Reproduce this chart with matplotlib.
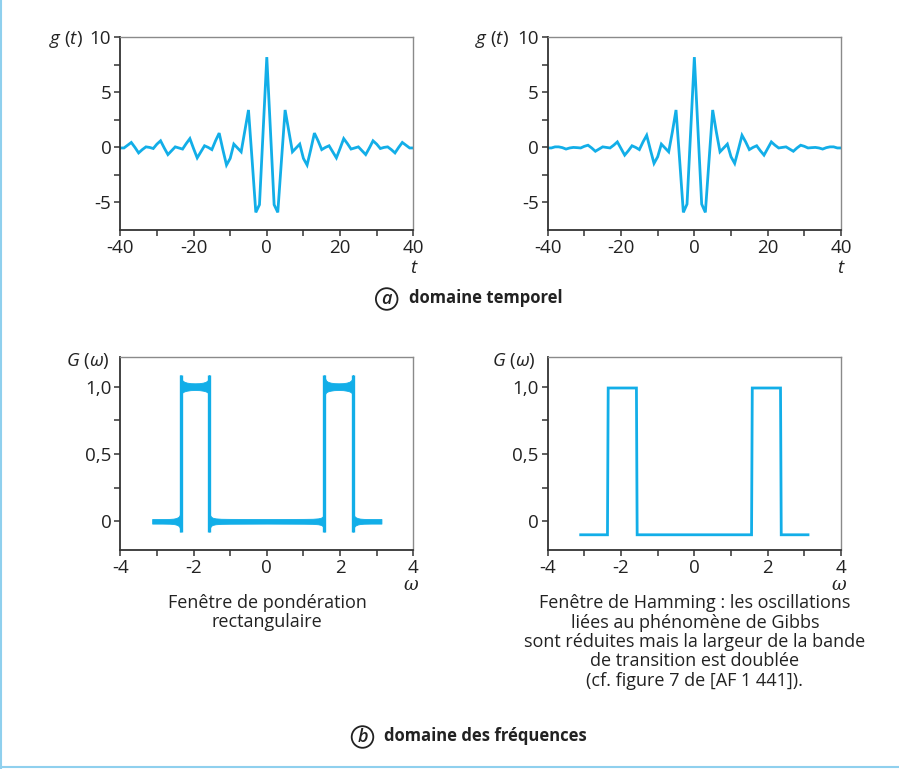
import numpy as np
import matplotlib
matplotlib.use('Agg')
import matplotlib.pyplot as plt
from matplotlib.patches import Circle
from matplotlib.lines import Line2D

plt.rcParams['font.family'] = ['Open Sans', 'DejaVu Sans']
plt.rcParams['axes.unicode_minus'] = False
plt.rcParams['mathtext.fontset'] = 'custom'
plt.rcParams['mathtext.it'] = 'Open Sans:italic'
plt.rcParams['mathtext.rm'] = 'Open Sans'

BLUE = '#12aee8'
DARK = '#333333'

# ---------------- data: time domain ----------------
t_vals = list(range(-40, 41))
g_rect = [-0.05, -0.05, 0.2, 0.45, 0.0, -0.5, -0.2, 0.05, 0.0, -0.1,
          0.3, 0.6, -0.05, -0.65, -0.3, 0.05, -0.05, -0.15, 0.35, 0.8,
          -0.1, -0.95, -0.4, 0.15, 0.0, -0.2, 0.6, 1.3, -0.2, -1.6,
          -1.0, 0.3, -0.05, -0.4, 1.5, 3.4, -1.2, -5.9, -5.2, 1.5,
          8.2,
          1.5, -5.2, -5.9, -1.2, 3.4, 1.5, -0.4, -0.05, 0.3, -1.0,
          -1.6, -0.2, 1.3, 0.6, -0.2, 0.0, 0.15, -0.4, -0.95, -0.1,
          0.8, 0.35, -0.15, -0.05, 0.05, -0.3, -0.65, -0.05, 0.6, 0.3,
          -0.1, 0.0, 0.05, -0.2, -0.5, 0.0, 0.45, 0.2, -0.05, -0.05]
g_hamm = [-0.05, -0.05, 0.05, 0.05, -0.02, -0.15, -0.05, 0.0, -0.02, -0.05,
          0.1, 0.2, -0.05, -0.35, -0.15, 0.05, 0.0, -0.05, 0.2, 0.5,
          -0.1, -0.7, -0.3, 0.15, 0.0, -0.2, 0.5, 1.1, -0.2, -1.45,
          -0.85, 0.3, -0.05, -0.4, 1.4, 3.4, -1.2, -5.9, -5.15, 1.5,
          8.2,
          1.5, -5.15, -5.9, -1.2, 3.4, 1.4, -0.4, -0.05, 0.3, -0.85,
          -1.45, -0.2, 1.1, 0.5, -0.2, 0.0, 0.15, -0.3, -0.7, -0.1,
          0.5, 0.2, -0.05, 0.0, 0.05, -0.15, -0.35, -0.05, 0.2, 0.1,
          -0.05, -0.02, 0.0, -0.05, -0.15, -0.02, 0.05, 0.05, -0.05, -0.05]
t_ticks = [-40, -20, 0, 20, 40]
t_tick_labels = ['-40', '-20', '0', '20', '40']
g_ticks = [-5, 0, 5, 10]
g_tick_labels = ['-5', '0', '5', '10']

# ---------------- data: frequency domain ----------------
# rectangular window: envelope of the (dense) Gibbs ringing, per band segment
rect_stop_left_w = [-3.13, -2.85, -2.65, -2.55, -2.48, -2.43, -2.40, -2.38, -2.366, -2.356]
rect_stop_left_hi = [0.017, 0.017, 0.018, 0.02, 0.024, 0.03, 0.036, 0.045, 0.06, 0.075]
rect_stop_left_lo = [-0.017, -0.017, -0.018, -0.02, -0.024, -0.03, -0.036, -0.045, -0.06, -0.077]

rect_pass_left_w = [-2.356, -2.345, -2.33, -2.30, -2.25, -2.18, -2.08, -1.96, -1.84, -1.74, -1.67, -1.62, -1.597, -1.582, -1.571]
rect_pass_left_hi = [1.086, 1.07, 1.058, 1.045, 1.036, 1.03, 1.026, 1.025, 1.026, 1.03, 1.036, 1.045, 1.058, 1.07, 1.086]
rect_pass_left_lo = [0.93, 0.94, 0.948, 0.958, 0.965, 0.97, 0.974, 0.975, 0.974, 0.97, 0.965, 0.958, 0.948, 0.94, 0.93]

rect_stop_mid_w = [-1.571, -1.561, -1.547, -1.52, -1.48, -1.4, -1.25, -1.0, 0.0, 1.0, 1.25, 1.4, 1.48, 1.52, 1.547, 1.561, 1.571]
rect_stop_mid_hi = [0.075, 0.06, 0.045, 0.034, 0.027, 0.022, 0.019, 0.018, 0.017, 0.018, 0.019, 0.022, 0.027, 0.034, 0.045, 0.06, 0.075]
rect_stop_mid_lo = [-0.077, -0.06, -0.045, -0.034, -0.027, -0.022, -0.019, -0.018, -0.017, -0.018, -0.019, -0.022, -0.027, -0.034, -0.045, -0.06, -0.077]

rect_pass_right_w = [1.571, 1.582, 1.597, 1.62, 1.67, 1.74, 1.84, 1.96, 2.08, 2.18, 2.25, 2.30, 2.33, 2.345, 2.356]
rect_pass_right_hi = [1.086, 1.07, 1.058, 1.045, 1.036, 1.03, 1.026, 1.025, 1.026, 1.03, 1.036, 1.045, 1.058, 1.07, 1.086]
rect_pass_right_lo = [0.93, 0.94, 0.948, 0.958, 0.965, 0.97, 0.974, 0.975, 0.974, 0.97, 0.965, 0.958, 0.948, 0.94, 0.93]

rect_stop_right_w = [2.356, 2.366, 2.38, 2.40, 2.43, 2.48, 2.55, 2.65, 2.85, 3.13]
rect_stop_right_hi = [0.075, 0.06, 0.045, 0.036, 0.03, 0.024, 0.02, 0.018, 0.017, 0.017]
rect_stop_right_lo = [-0.077, -0.06, -0.045, -0.036, -0.03, -0.024, -0.02, -0.018, -0.017, -0.017]

rect_edges_w = [-2.356, -1.571, 1.571, 2.356]
rect_edge_top = 1.086
rect_edge_bottom = -0.077

# Hamming window response
hamm_w = [-3.1, -2.37, -2.35, -1.58, -1.56, 1.56, 1.58, 2.35, 2.37, 3.1]
hamm_G = [-0.1, -0.1, 0.99, 0.99, -0.1, -0.1, 0.99, 0.99, -0.1, -0.1]

w_ticks = [-4, -2, 0, 2, 4]
w_tick_labels = ['-4', '-2', '0', '2', '4']
G_ticks = [0, 0.5, 1.0]
G_tick_labels = ['0', '0,5', '1,0']

# ---------------- figure ----------------
W, H = 899, 769
fig = plt.figure(figsize=(W / 100, H / 100), dpi=100)


def fx(x):
    return x / W


def fy(y):
    return 1 - y / H


def box(x0, x1, y0, y1):
    return [fx(x0), fy(y1), (x1 - x0) / W, (y1 - y0) / H]


def style(ax):
    for s in ['left', 'bottom']:
        ax.spines[s].set_color(DARK)
        ax.spines[s].set_linewidth(1.3)
    for s in ['top', 'right']:
        ax.spines[s].set_color('#8a8a8a')
        ax.spines[s].set_linewidth(1.0)
    ax.tick_params(which='both', direction='out', length=4, width=1.1,
                   color=DARK, labelsize=13.5, labelcolor='#222222',
                   top=False, right=False)
    ax.tick_params(axis='y', which='both', pad=2.5)
    ax.tick_params(axis='x', which='both', pad=2.5)


ax_tl = fig.add_axes(box(120.3, 413.3, 37.3, 230))
ax_tr = fig.add_axes(box(547.7, 841, 37.3, 230))
ax_bl = fig.add_axes(box(120.3, 413.3, 357.3, 550))
ax_br = fig.add_axes(box(547.7, 841, 357.3, 550))

for ax, g in [(ax_tl, g_rect), (ax_tr, g_hamm)]:
    ax.plot(t_vals, g, color=BLUE, lw=2.0, solid_joinstyle='miter')
    ax.set_xlim(-40, 40)
    ax.set_ylim(-7.5, 10)
    ax.set_xticks(t_ticks)
    ax.set_xticklabels(t_tick_labels)
    ax.set_xticks([-30, -10, 10, 30], minor=True)
    ax.set_yticks(g_ticks)
    ax.set_yticklabels(g_tick_labels)
    ax.set_yticks([-2.5, 2.5, 7.5], minor=True)
    style(ax)

# rectangular window spectrum
segments = [
    (rect_stop_left_w, rect_stop_left_hi, rect_stop_left_lo),
    (rect_pass_left_w, rect_pass_left_hi, rect_pass_left_lo),
    (rect_stop_mid_w, rect_stop_mid_hi, rect_stop_mid_lo),
    (rect_pass_right_w, rect_pass_right_hi, rect_pass_right_lo),
    (rect_stop_right_w, rect_stop_right_hi, rect_stop_right_lo),
]
for w, hi, lo in segments:
    ax_bl.fill_between(w, lo, hi, color=BLUE, lw=0.6, edgecolor=BLUE)
ax_bl.vlines(rect_edges_w, rect_edge_bottom, rect_edge_top, color=BLUE, lw=2.4)

ax_br.plot(hamm_w, hamm_G, color=BLUE, lw=2.0, solid_joinstyle='miter')

for ax in [ax_bl, ax_br]:
    ax.set_xlim(-4, 4)
    ax.set_ylim(-0.213, 1.218)
    ax.set_xticks(w_ticks)
    ax.set_xticklabels(w_tick_labels)
    ax.set_xticks([-3, -1, 1, 3], minor=True)
    ax.set_yticks(G_ticks)
    ax.set_yticklabels(G_tick_labels)
    ax.set_yticks([0.25, 0.75], minor=True)
    style(ax)

# ---------------- axis labels ----------------
lab_kw = dict(fontsize=13.5, color='#222222')
fig.text(fx(83), fy(40), r'$g$ ($t$)', ha='right', va='center', **lab_kw)
fig.text(fx(509), fy(40), r'$g$ ($t$)', ha='right', va='center', **lab_kw)
fig.text(fx(414), fy(268), r'$t$', ha='center', va='center', **lab_kw)
fig.text(fx(841), fy(268), r'$t$', ha='center', va='center', **lab_kw)
fig.text(fx(110), fy(361), r'$G$ ($\omega$)', ha='right', va='center', **lab_kw)
fig.text(fx(536), fy(361), r'$G$ ($\omega$)', ha='right', va='center', **lab_kw)
fig.text(fx(411), fy(585), 'ω', ha='center', va='center',
         fontsize=13, color='#222222', family='DejaVu Serif', style='italic')
fig.text(fx(839), fy(585), 'ω', ha='center', va='center',
         fontsize=13, color='#222222', family='DejaVu Serif', style='italic')

# ---------------- captions ----------------
cap_kw = dict(fontsize=13, color='#222222', ha='center', va='center')
fig.text(fx(267), fy(603), 'Fenêtre de pondération', **cap_kw)
fig.text(fx(267), fy(622), 'rectangulaire', **cap_kw)
right_lines = ['Fenêtre de Hamming : les oscillations',
               'liées au phénomène de Gibbs',
               'sont réduites mais la largeur de la bande',
               'de transition est doublée',
               '(cf. figure 7 de [AF 1 441]).']
for i, line in enumerate(right_lines):
    fig.text(fx(695), fy(603 + 19.5 * i), line, **cap_kw)

# panel titles with circled letters
for cx, cy, letter, tx, title in [(386.7, 299, 'a', 409, 'domaine temporel'),
                                  (362.5, 737, 'b', 384, 'domaine des fréquences')]:
    circ = Circle((cx / 100, (H - cy) / 100), 0.108, transform=fig.dpi_scale_trans,
                  fill=False, ec='#222222', lw=1.3)
    fig.patches.append(circ)
    fig.text(fx(cx), fy(cy), letter, ha='center', va='center', fontsize=13,
             style='italic', fontweight='semibold', color='#222222')
    fig.text(fx(tx), fy(cy - 1), title, ha='left', va='center', fontsize=12,
             fontweight='bold', color='#222222')

# light blue frame lines (left and bottom)
fig.add_artist(Line2D([fx(1), fx(1)], [0, 1], color='#8fd0ee', lw=1.5))
fig.add_artist(Line2D([0, 1], [fy(767), fy(767)], color='#8fd0ee', lw=1.5))

fig.savefig('out.png', dpi=100)
